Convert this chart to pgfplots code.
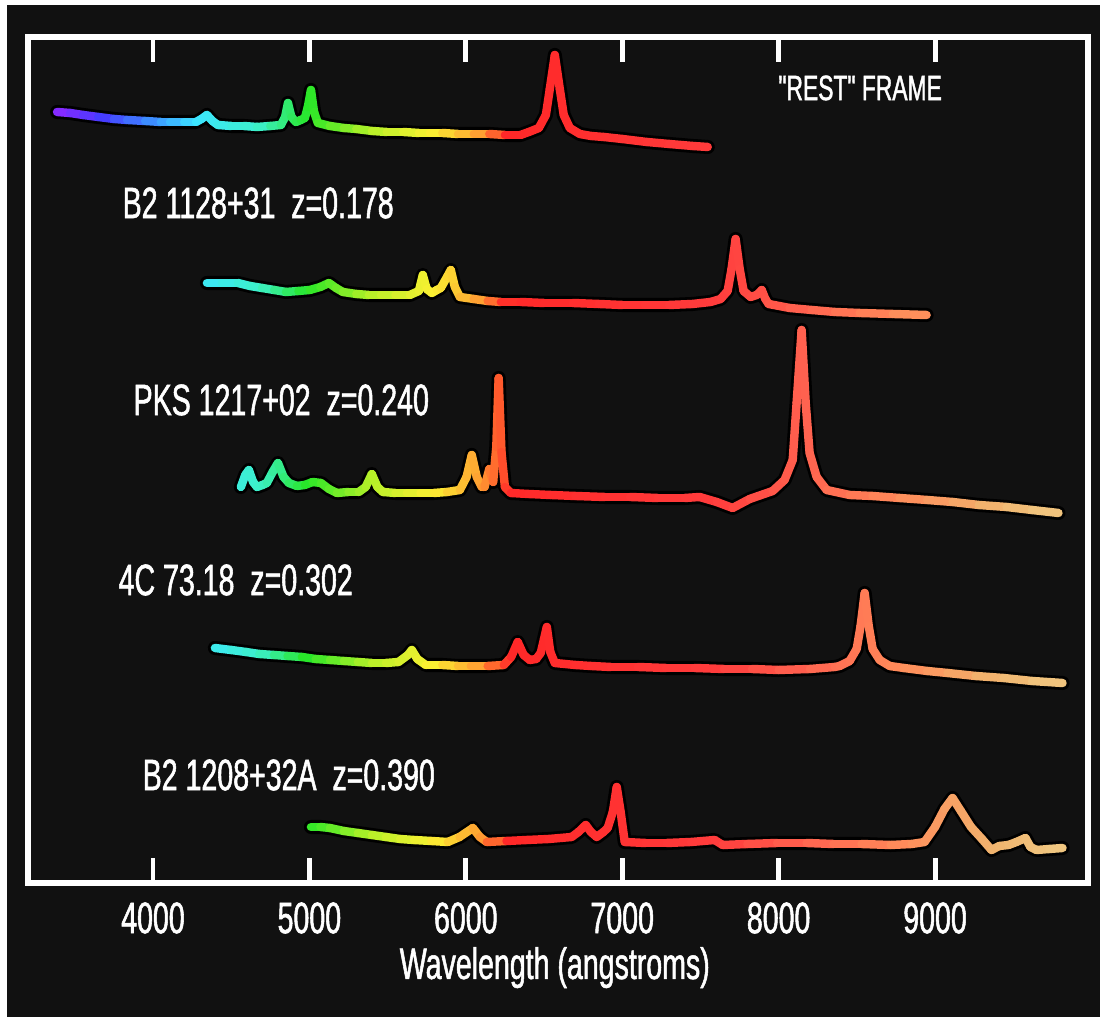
\documentclass[border=0pt]{standalone}
\usepackage{pgfplots}
\usepackage{pgfplotstable}
\pgfplotsset{compat=1.18}
\usepackage{fontspec}
\setmainfont{Liberation Sans}[FakeStretch=0.65,FakeBold=1.2]
\newfontfamily\qfont{Liberation Sans}[FakeStretch=0.65,FakeBold=1.2]
\definecolor{bgc}{RGB}{17,17,17}

\pgfplotstableread{
x y
3387 905
3470 904
3553 902
3650 900
3750 898
3834 897
3950 896
4050 895
4109 895
4200 895
4275 895
4310 898
4345 902
4380 896
4415 892
4500 891
4580 891
4665 890
4750 891
4818 892
4845 900
4863 914
4885 900
4914 895
4945 897
4971 899
4990 910
5010 927
5030 905
5054 894
5130 891
5220 889
5300 888
5400 886
5495 885
5600 885
5700 884
5770 884
5850 884
5950 883
6051 883
6150 883
6250 882
6350 882
6403 885
6467 889
6512 902
6537 928
6569 962
6601 928
6626 902
6665 889
6729 883
6800 881
6882 880
7000 878
7157 875
7300 873
7450 871
7547 870
}\specA

\pgfplotstableread{
x y
4345 734
4440 734
4543 734
4620 731
4697 729
4775 727
4850 725
4930 726
5003 727
5070 730
5125 734
5170 729
5214 725
5300 723
5380 722
5457 722
5550 722
5642 722
5700 726
5725 742
5750 728
5783 724
5815 727
5840 729
5880 740
5904 747
5930 730
5962 720
6050 718
6140 716
6224 715
6350 715
6500 714
6684 714
6850 713
7000 712
7144 712
7300 712
7450 713
7565 715
7629 718
7674 726
7699 748
7725 778
7751 748
7776 726
7821 720
7860 722
7892 727
7915 718
7936 713
8070 709
8211 707
8360 705
8518 704
8730 703
8946 702
}\specB

\pgfplotstableread{
x y
4562 530
4590 542
4613 547
4640 535
4665 530
4700 532
4728 534
4765 545
4799 554
4835 540
4869 534
4920 531
4971 532
5020 535
5074 534
5125 528
5176 524
5250 525
5316 525
5360 530
5399 543
5435 530
5470 525
5550 524
5623 524
5710 524
5796 524
5880 525
5962 527
6005 540
6038 562
6070 540
6102 530
6120 530
6150 548
6175 535
6195 570
6210 639
6228 565
6250 530
6288 524
6400 523
6543 522
6700 521
6888 520
7050 520
7227 519
7400 519
7495 520
7604 515
7706 509
7815 518
7962 526
8038 537
8090 557
8115 614
8147 687
8173 614
8198 564
8243 540
8307 527
8454 522
8600 521
8773 519
8950 517
9112 515
9280 512
9457 510
9620 507
9789 504
}\specC

\pgfplotstableread{
x y
4396 369
4500 367
4594 365
4680 363
4773 362
4860 361
4952 360
5040 358
5131 357
5220 356
5310 355
5400 354
5489 354
5570 355
5630 362
5655 367
5690 358
5744 352
5850 352
5950 351
6032 351
6140 351
6243 352
6290 360
6332 375
6370 362
6409 357
6450 358
6479 364
6500 378
6518 390
6540 365
6569 354
6700 352
6800 351
6927 350
7100 350
7280 349
7463 349
7650 348
7830 348
8000 347
8200 348
8358 350
8390 351
8454 356
8499 368
8524 391
8550 424
8576 391
8601 368
8646 357
8710 351
8800 349
8950 346
9080 344
9260 341
9438 339
9620 336
9815 334
}\specD

\pgfplotstableread{
x y
5010 190
5070 190
5131 189
5220 186
5310 184
5400 182
5489 180
5580 178
5668 177
5780 176
5885 175
5960 180
6045 189
6090 180
6134 175
6260 176
6390 177
6530 178
6677 180
6720 185
6767 192
6800 185
6837 180
6880 185
6907 189
6940 205
6965 230
6990 205
7016 175
7150 174
7284 174
7440 175
7591 177
7642 172
7800 173
7990 174
8179 174
8350 173
8530 173
8716 172
8850 173
8933 175
9000 190
9060 208
9112 219
9165 206
9230 190
9300 178
9361 167
9410 171
9470 172
9520 175
9578 179
9610 170
9649 167
9730 168
9815 169
}\specE

\pgfplotsset{
  halo/.style={black, line width=4pt, line join=round, line cap=round},
  spec/.style={mesh, point meta=x, line width=2.4pt, line cap=round, line join=round},
}

\begin{document}
\begin{tikzpicture}
\fill[white] (0,0) rectangle (11cm,10.17cm);
\fill[bgc] (0.07cm,0) rectangle (11cm,10.12cm);
\begin{axis}[
  at={(0.28cm,1.34cm)}, anchor=south west,
  scale only axis, width=10.6cm, height=8.46cm,
  xmin=3201, xmax=9978, ymin=134, ymax=980,
  clip=false,
  axis line style={white, line width=1.6pt},
  xtick={4000,5000,6000,7000,8000,9000},
  ytick=\empty,
  xtick pos=both, xticklabel pos=lower,
  tick align=inside,
  major tick length=0.25cm,
  every tick/.style={white, line width=1.4pt},
  /pgf/number format/1000 sep={},
  /pgf/number format/assume math mode=true,
  xticklabel style={text=white, font=\fontsize{12.5}{14}\selectfont, yshift=-2pt},
  xlabel={Wavelength (angstroms)},
  xlabel style={text=white, font=\fontsize{12.5}{14}\selectfont, at={(axis description cs:0.497,-0.1)}, anchor=center},
  colormap={spec}{
    rgb255(0pt)=(140,40,255);
    rgb255(3pt)=(70,60,255);
    rgb255(6pt)=(60,140,255);
    rgb255(9pt)=(60,230,255);
    rgb255(13pt)=(60,240,200);
    rgb255(16pt)=(40,230,40);
    rgb255(20pt)=(180,240,40);
    rgb255(24pt)=(250,240,50);
    rgb255(27pt)=(255,160,50);
    rgb255(29pt)=(255,40,40);
    rgb255(42pt)=(255,60,60);
    rgb255(48pt)=(255,100,80);
    rgb255(54pt)=(255,140,90);
    rgb255(60pt)=(240,180,110);
    rgb255(64pt)=(240,200,130)
  },
  point meta min=3400, point meta max=9800,
]
\addplot[halo] table[x=x,y=y] {\specA};
\addplot[spec] table[x=x,y=y] {\specA};
\addplot[halo] table[x=x,y=y] {\specB};
\addplot[spec] table[x=x,y=y] {\specB};
\addplot[halo] table[x=x,y=y] {\specC};
\addplot[spec] table[x=x,y=y] {\specC};
\addplot[halo] table[x=x,y=y] {\specD};
\addplot[spec] table[x=x,y=y] {\specD};
\addplot[halo] table[x=x,y=y] {\specE};
\addplot[spec] table[x=x,y=y] {\specE};
\node[anchor=west, text=white, font=\qfont\fontsize{10}{12}\selectfont, inner sep=0pt] at (axis cs:7994,929) {"REST" FRAME};
\node[anchor=west, text=white, font=\fontsize{12.5}{14}\selectfont, inner sep=0pt] at (axis cs:3802,814) {B2 1128+31\ \ z=0.178};
\node[anchor=west, text=white, font=\fontsize{12.5}{14}\selectfont, inner sep=0pt] at (axis cs:3872,617) {PKS 1217+02\ \ z=0.240};
\node[anchor=west, text=white, font=\fontsize{12.5}{14}\selectfont, inner sep=0pt] at (axis cs:3776,437) {4C 73.18\ \ z=0.302};
\node[anchor=west, text=white, font=\fontsize{12.5}{14}\selectfont, inner sep=0pt] at (axis cs:3930,242) {B2 1208+32A\ \ z=0.390};
\end{axis}
\end{tikzpicture}
\end{document}
